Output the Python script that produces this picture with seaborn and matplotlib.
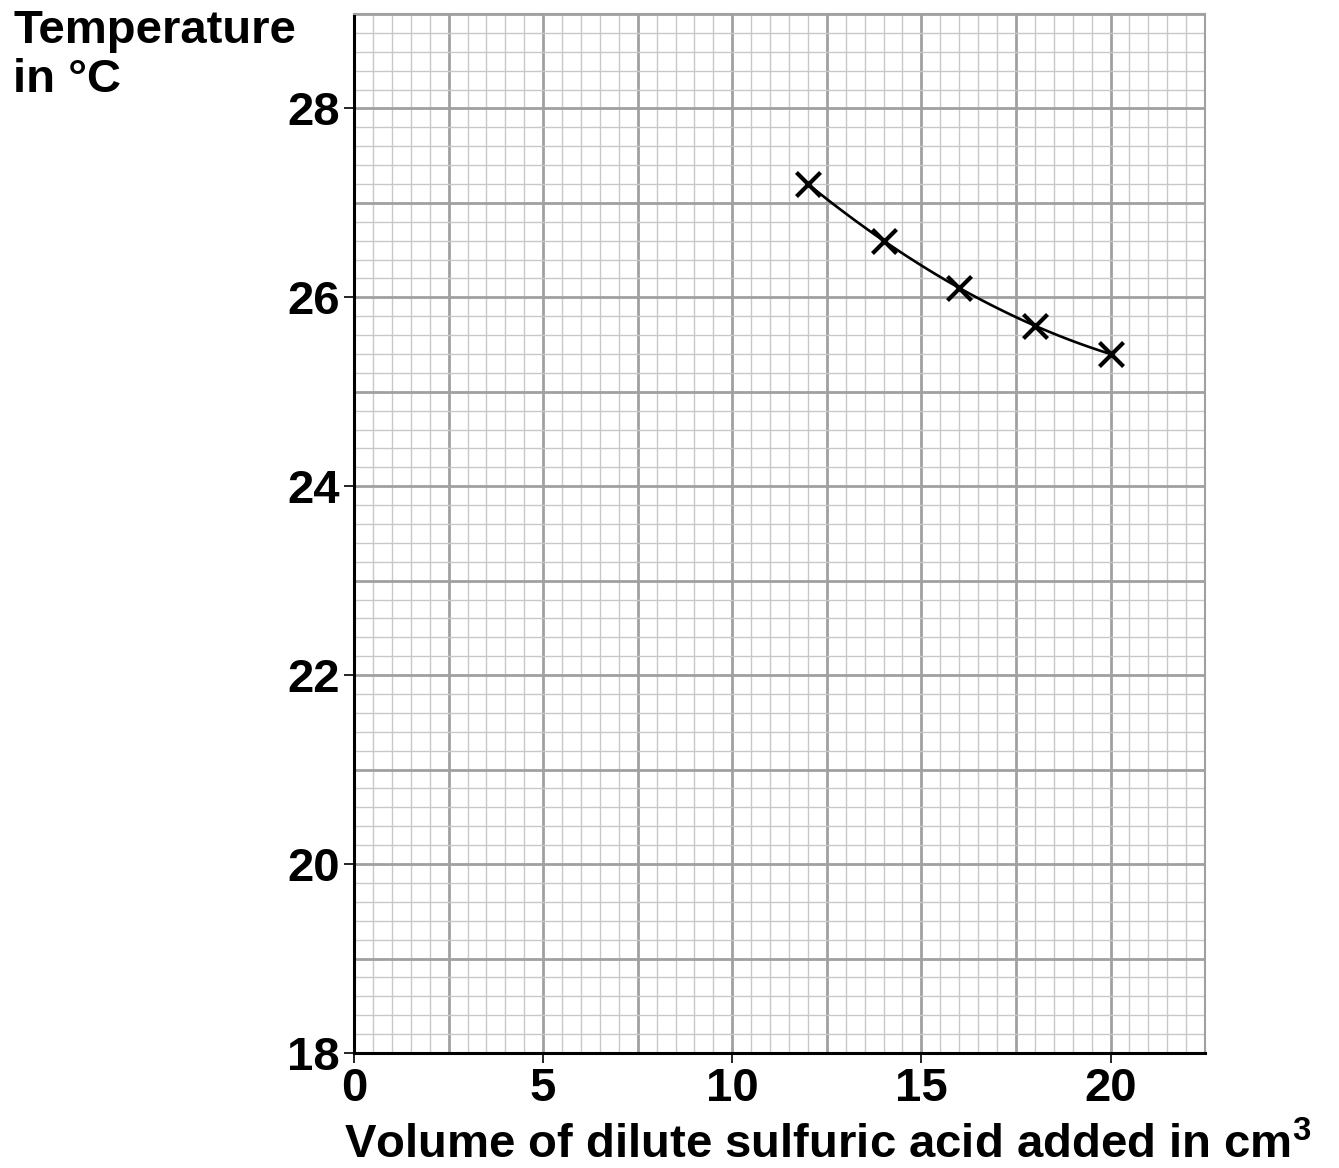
import numpy as np
import pandas as pd
import seaborn as sns
import matplotlib.pyplot as plt

# =========================================================
# DATA
# =========================================================

volume = [12, 14, 16, 18, 20]
temperature = [27.2, 26.6, 26.1, 25.7, 25.4]

x_ticks = [0, 5, 10, 15, 20]
y_ticks = [18, 20, 22, 24, 26, 28]

df = pd.DataFrame({"volume": volume, "temperature": temperature})

# =========================================================
# STYLE
# =========================================================

sns.set_theme(style="white")
plt.rcParams["font.family"] = ["Liberation Sans", "DejaVu Sans"]
plt.rcParams["font.weight"] = "bold"
plt.rcParams["text.color"] = "black"
plt.rcParams["xtick.color"] = "black"
plt.rcParams["ytick.color"] = "black"
plt.rcParams["axes.labelcolor"] = "black"
plt.rcParams["mathtext.fontset"] = "custom"
plt.rcParams["mathtext.bf"] = "Liberation Sans:bold"
plt.rcParams["mathtext.rm"] = "Liberation Sans:bold"

fig = plt.figure(figsize=(13.39, 11.68), dpi=100)
ax = fig.add_axes([0.2644, 0.0985, 0.9 - 0.2644, 0.988 - 0.0985])

ax.set_xlim(0, 22.5)
ax.set_ylim(18, 29)

# graph paper grid
for gx in np.arange(0, 22.51, 0.5):
    major = abs(gx / 2.5 - round(gx / 2.5)) < 1e-6
    ax.axvline(gx, color="#a0a0a0" if major else "#c8c8c8",
               lw=2.0 if major else 1.0, zorder=0)
for gy in np.arange(18, 29.01, 0.2):
    major = abs(gy - round(gy)) < 1e-6
    ax.axhline(gy, color="#a0a0a0" if major else "#c8c8c8",
               lw=2.0 if major else 1.0, zorder=0)

# =========================================================
# CURVE + POINTS
# =========================================================

sns.regplot(
    data=df,
    x="volume",
    y="temperature",
    order=2,
    ci=None,
    scatter=False,
    truncate=True,
    color="black",
    line_kws={"lw": 1.9, "zorder": 3},
    ax=ax
)

sns.scatterplot(
    data=df,
    x="volume",
    y="temperature",
    marker="x",
    s=300,
    color="black",
    linewidth=3.0,
    zorder=4,
    ax=ax
)

# =========================================================
# AXES
# =========================================================

ax.set_xticks(x_ticks)
ax.set_yticks(y_ticks)
ax.set_xticklabels([str(v) for v in x_ticks], fontsize=34, fontweight="bold")
ax.set_yticklabels([str(v) for v in y_ticks], fontsize=34, fontweight="bold")
ax.tick_params(axis="both", direction="out", length=7, width=1.2,
               color="black", bottom=True, left=True, pad=3)

for side in ["left", "bottom"]:
    ax.spines[side].set_color("black")
    ax.spines[side].set_linewidth(2.2)
for side in ["top", "right"]:
    ax.spines[side].set_color("#a0a0a0")
    ax.spines[side].set_linewidth(1.5)

ax.set_ylabel("")
ax.set_xlabel(r"Volume of dilute sulfuric acid added in cm$^{\mathbf{3}}$",
              fontsize=34, fontweight="bold", labelpad=2)
ax.xaxis.set_label_coords(0.556, -0.068)
ax.xaxis.label.set_va("top")

fig.text(0.010, 0.992, "Temperature\nin °C", fontsize=34,
         fontweight="bold", ha="left", va="top", linespacing=1.15)

fig.savefig("out.png", dpi=100)
